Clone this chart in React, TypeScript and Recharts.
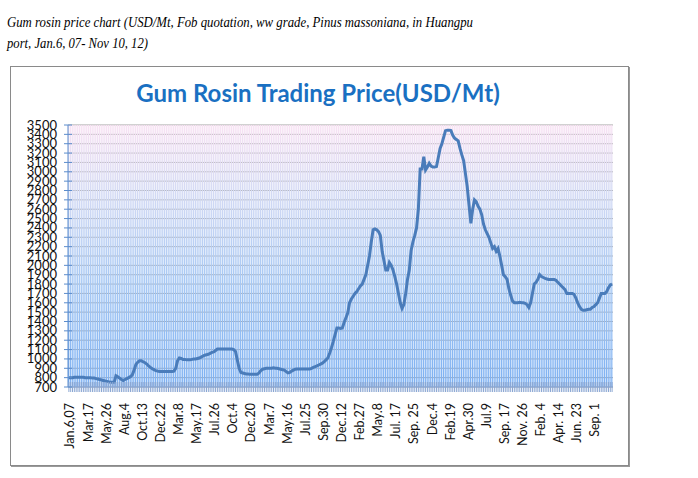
import React from "react";
import { ComposedChart, Bar, Line, XAxis, YAxis, CartesianGrid } from "recharts";

// Tick labels shown every 10 weeks on the category axis
const weekLabels = [
  "Jan.6,07", "Mar.17", "May.26", "Aug.4", "Oct.13", "Dec.22", "Mar.8", "May.17", "Jul.26", "Oct.4",
  "Dec.20", "Mar.7", "May.16", "Jul.25", "Sep.30", "Dec.12", "Feb.27", "May.8", "Jul. 17", "Sep. 25",
  "Dec.4", "Feb.19", "Apr.30", "Jul.9", "Sep. 17", "Nov. 26", "Feb. 4", "Apr. 14", "Jun. 23", "Sep. 1",
];

// Weekly gum rosin price, USD/Mt (Jan 6, 2007 – Nov 10, 2012)
const prices = [
  800, 800, 800, 805, 805, 805, 805, 805, 805, 800,
  800, 800, 800, 795, 795, 790, 785, 780, 775, 770,
  765, 760, 755, 750, 750, 750, 820, 810, 795, 780,
  770, 780, 790, 800, 810, 830, 880, 940, 965, 980,
  980, 970, 960, 945, 925, 910, 895, 885, 875, 870,
  865, 865, 865, 865, 865, 865, 865, 865, 870, 900,
  980, 1010, 1005, 995, 995, 990, 990, 990, 995, 1000,
  1000, 1005, 1010, 1020, 1030, 1040, 1045, 1050, 1060, 1070,
  1075, 1090, 1105, 1105, 1105, 1105, 1105, 1105, 1105, 1105,
  1105, 1100, 1080, 990, 900, 855, 850, 845, 840, 838,
  835, 835, 835, 835, 835, 850, 875, 890, 895, 900,
  900, 900, 900, 905, 900, 900, 895, 890, 885, 880,
  865, 850, 855, 870, 880, 890, 893, 893, 893, 893,
  893, 893, 893, 893, 900, 910, 917, 925, 935, 945,
  955, 970, 990, 1010, 1060, 1120, 1185, 1260, 1330, 1330,
  1325, 1330, 1390, 1440, 1490, 1600, 1640, 1670, 1700, 1720,
  1750, 1780, 1800, 1850, 1900, 2000, 2100, 2250, 2380, 2390,
  2380, 2360, 2320, 2150, 2050, 1950, 1950, 2030, 2000, 1950,
  1880, 1800, 1700, 1600, 1540, 1580, 1700, 1850, 1950, 2160,
  2250, 2320, 2400, 2600, 3030, 3030, 3160, 3020, 3050, 3090,
  3060, 3050, 3050, 3055, 3150, 3250, 3300, 3370, 3440, 3445,
  3445, 3440, 3390, 3360, 3345, 3330, 3250, 3180, 3120, 2980,
  2840, 2640, 2450, 2600, 2700, 2680, 2630, 2600, 2540, 2440,
  2380, 2340, 2300, 2240, 2180, 2200, 2150, 2180, 2100, 2000,
  1900, 1880, 1850, 1750, 1680, 1620, 1600, 1600, 1600, 1605,
  1600, 1600, 1595, 1580, 1550, 1600, 1700, 1800, 1820, 1850,
  1900, 1880, 1870, 1860, 1855, 1850, 1850, 1850, 1850, 1840,
  1820, 1800, 1780, 1760, 1740, 1700, 1700, 1700, 1700, 1690,
  1650, 1600, 1560, 1530, 1520, 1520, 1525, 1530, 1530, 1550,
  1560, 1580, 1600, 1650, 1700, 1700, 1700, 1720, 1760, 1790,
  1800,
];

// Value-axis ticks (every 100 from 700 to 3500)
const yTicks = [
  700, 800, 900, 1000, 1100, 1200, 1300, 1400, 1500, 1600, 1700, 1800, 1900, 2000, 2100,
  2200, 2300, 2400, 2500, 2600, 2700, 2800, 2900, 3000, 3100, 3200, 3300, 3400, 3500,
];
const backdropLevel = 3500;

const data = prices.map((p, i) => ({ idx: i, price: p, band: backdropLevel }));

const XTick = (props: any) => {
  const { x, y, payload } = props;
  const i = payload.value as number;
  const showLabel = i % 10 === 0 && i / 10 < weekLabels.length;
  return (
    <g>
      <line x1={x} x2={x} y1={y - 5} y2={y + 5} stroke="#8aa6d2" strokeWidth={1} />
      {showLabel && (
        <text
          transform={`translate(${x + 5.5},${y + 16}) rotate(-90)`}
          textAnchor="end"
          fontSize={12.5}
          fontFamily="Lato, sans-serif"
          fill="#111"
        >
          {weekLabels[i / 10]}
        </text>
      )}
    </g>
  );
};

const YTick = (props: any) => {
  const { x, y, payload } = props;
  return (
    <g>
      <line x1={x - 4} x2={x + 4} y1={y} y2={y} stroke="#5b8ccc" strokeWidth={1} />
      <text x={x - 11} y={y + 4.5} textAnchor="end" fontSize={13} fontFamily="Lato, sans-serif" fill="#111">
        {payload.value}
      </text>
    </g>
  );
};

export default function App() {
  return (
    <div style={{ position: "absolute", left: 0, top: 0, width: 698, height: 478, background: "#fff" }}>
      <svg style={{ position: "absolute", left: 0, top: 0 }} width={698} height={60}>
        <text
          x={7}
          y={27}
          fontFamily="'Liberation Serif', serif"
          fontStyle="italic"
          fontSize={15.5}
          fill="#000"
          textLength={466}
          lengthAdjust="spacingAndGlyphs"
        >
          Gum rosin price chart (USD/Mt, Fob quotation, ww grade, Pinus massoniana, in Huangpu
        </text>
        <text
          x={7}
          y={48}
          fontFamily="'Liberation Serif', serif"
          fontStyle="italic"
          fontSize={15.5}
          fill="#000"
          textLength={141}
          lengthAdjust="spacingAndGlyphs"
        >
          port, Jan.6, 07- Nov 10, 12)
        </text>
      </svg>
      <div
        style={{
          position: "absolute",
          left: 10,
          top: 66,
          width: 617,
          height: 398,
          border: "1px solid #8a8a8a",
          boxShadow: "1px 1px 0 #9a9a9a",
          background: "#fff",
        }}
      />
      <div style={{ position: "absolute", left: 10, top: 66 }}>
        <ComposedChart
          width={618}
          height={399}
          data={data}
          margin={{ top: 59, right: 15, bottom: 0, left: 0 }}
          barCategoryGap={0}
        >
          <defs>
            <linearGradient id="bandFill" x1="0" y1="0" x2="0" y2="1">
              <stop offset="0%" stopColor="#f8e2f3" />
              <stop offset="25%" stopColor="#d4daf4" />
              <stop offset="60%" stopColor="#a6c8f4" />
              <stop offset="100%" stopColor="#7cb0f2" />
            </linearGradient>
          </defs>
          <CartesianGrid vertical={false} stroke="#7a7a7a" strokeOpacity={0.7} />
          <XAxis
            dataKey="idx"
            type="category"
            interval={0}
            height={78}
            tickLine={false}
            tickSize={0}
            tickMargin={0}
            axisLine={{ stroke: "#8aa6d2" }}
            tick={<XTick />}
          />
          <YAxis
            type="number"
            domain={[700, 3500]}
            ticks={yTicks}
            interval={0}
            width={58}
            tickLine={false}
            tickSize={0}
            tickMargin={0}
            axisLine={{ stroke: "#5b8ccc" }}
            tick={<YTick />}
            allowDataOverflow
          />
          <Bar dataKey="band" barSize={1.25} fill="url(#bandFill)" isAnimationActive={false} />
          <Line
            type="linear"
            dataKey="price"
            stroke="#4a7cba"
            strokeWidth={3}
            dot={false}
            isAnimationActive={false}
          />
        </ComposedChart>
      </div>
      <svg style={{ position: "absolute", left: 0, top: 66, pointerEvents: "none" }} width={698} height={50}>
        <text
          x={318}
          y={36}
          textAnchor="middle"
          fontFamily="Lato, sans-serif"
          fontWeight={700}
          fontSize={24}
          fill="#1a70c2"
        >
          Gum Rosin Trading Price(USD/Mt)
        </text>
      </svg>
    </div>
  );
}
